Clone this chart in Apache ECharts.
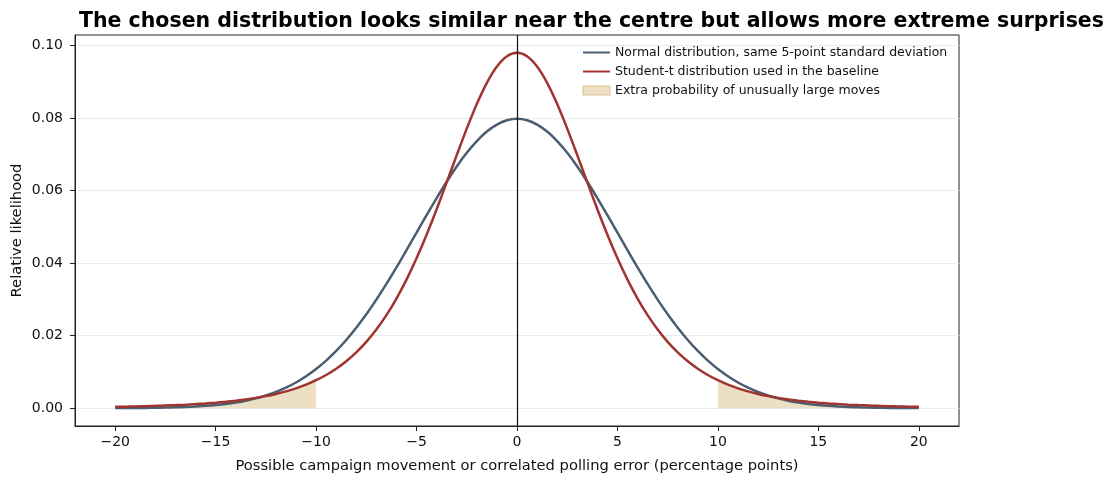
<!DOCTYPE html>
<html>
<head>
<meta charset="utf-8">
<title>Normal vs Student-t</title>
<script src="https://cdn.jsdelivr.net/npm/echarts@6.0.0/dist/echarts.min.js"></script>
<style>
  html, body { margin: 0; padding: 0; background: #fff; }
  #chart { width: 1118px; height: 483px; }
</style>
</head>
<body>
<div id="chart"></div>
<script>
// Values (percentage points -> relative likelihood)
const xs = [
    -20, -19.5, -19, -18.5, -18, -17.5, -17, -16.5, -16, -15.5, -15, -14.5, -14, -13.5, -13, -12.5,
    -12, -11.5, -11, -10.5, -10, -9.5, -9, -8.5, -8, -7.5, -7, -6.5, -6, -5.5, -5, -4.5, -4, -3.5,
    -3, -2.5, -2, -1.5, -1, -0.5, 0, 0.5, 1, 1.5, 2, 2.5, 3, 3.5, 4, 4.5, 5, 5.5, 6, 6.5, 7, 7.5,
    8, 8.5, 9, 9.5, 10, 10.5, 11, 11.5, 12, 12.5, 13, 13.5, 14, 14.5, 15, 15.5, 16, 16.5, 17, 17.5,
    18, 18.5, 19, 19.5, 20,
]

const normalValues = [
    0.00003, 0.00004, 0.00006, 0.00008, 0.00012, 0.00017, 0.00025, 0.00034, 0.00048, 0.00065,
    0.00089, 0.00119, 0.00158, 0.00208, 0.00272, 0.00351, 0.00448, 0.00567, 0.00709, 0.00880,
    0.01080, 0.01312, 0.01579, 0.01881, 0.02218, 0.02590, 0.02995, 0.03427, 0.03884, 0.04357,
    0.04839, 0.05322, 0.05794, 0.06245, 0.06664, 0.07041, 0.07365, 0.07628, 0.07821, 0.07939,
    0.07979,
    0.07939, 0.07821, 0.07628, 0.07365, 0.07041, 0.06664, 0.06245, 0.05794, 0.05322, 0.04839,
    0.04357, 0.03884, 0.03427, 0.02995, 0.02590, 0.02218, 0.01881, 0.01579, 0.01312, 0.01080,
    0.00880, 0.00709, 0.00567, 0.00448, 0.00351, 0.00272, 0.00208, 0.00158, 0.00119, 0.00089,
    0.00065, 0.00048, 0.00034, 0.00025, 0.00017, 0.00012, 0.00008, 0.00006, 0.00004, 0.00003,
]

const studentValues = [
    0.00039, 0.00044, 0.00050, 0.00057, 0.00065, 0.00075, 0.00086, 0.00099, 0.00114, 0.00132,
    0.00153, 0.00178, 0.00208, 0.00243, 0.00285, 0.00334, 0.00394, 0.00465, 0.00549, 0.00650,
    0.00772, 0.00916, 0.01089, 0.01295, 0.01540, 0.01829, 0.02169, 0.02565, 0.03024, 0.03547,
    0.04135, 0.04785, 0.05487, 0.06226, 0.06977, 0.07709, 0.08387, 0.08970, 0.09420, 0.09704,
    0.09802,
    0.09704, 0.09420, 0.08970, 0.08387, 0.07709, 0.06977, 0.06226, 0.05487, 0.04785, 0.04135,
    0.03547, 0.03024, 0.02565, 0.02169, 0.01829, 0.01540, 0.01295, 0.01089, 0.00916, 0.00772,
    0.00650, 0.00549, 0.00465, 0.00394, 0.00334, 0.00285, 0.00243, 0.00208, 0.00178, 0.00153,
    0.00132, 0.00114, 0.00099, 0.00086, 0.00075, 0.00065, 0.00057, 0.00050, 0.00044, 0.00039,
]

const xTicks = [-20, -15, -10, -5, 0, 5, 10, 15, 20]
const yTicks = [0, 0.02, 0.04, 0.06, 0.08, 0.10]
const tailCutoff = 10

const seriesNames = [
    "Normal distribution, same 5-point standard deviation",
    "Student-t distribution used in the baseline",
    "Extra probability of unusually large moves",
]

const FONT = "DejaVu Sans"
const BLUE = "#4b5e71"
const RED = "#9f3430"

const pairs = (ys) => xs.map((x, i) => [x, ys[i]])
const leftTail = pairs(studentValues).filter((p) => p[0] <= -tailCutoff)
const rightTail = pairs(studentValues).filter((p) => p[0] >= tailCutoff)

const minus = (s) => String(s).replace("-", "\u2212")

document.addEventListener("DOMContentLoaded", () => {
    const chart = echarts.init(document.getElementById("chart"), null, { renderer: "canvas" })

    const tailSeries = (data) => ({
        name: seriesNames[2],
        type: "line",
        data: data,
        smooth: 0.3,
        symbol: "none",
        z: 1,
        lineStyle: { color: "#dcc190", width: 1 },
        areaStyle: { color: "#ecdfc3", opacity: 1, origin: 0 },
        silent: true,
    })

    const option = {
        animation: false,
        textStyle: { fontFamily: FONT },
        title: {
            text: "The chosen distribution looks similar near the centre but allows more extreme surprises",
            left: 74,
            top: 6,
            textStyle: { fontFamily: FONT, fontSize: 20.5, fontWeight: "bold", color: "#000" },
        },
        legend: {
            orient: "vertical",
            left: 577,
            top: 41,
            itemWidth: 27,
            itemHeight: 9,
            itemGap: 6,
            textStyle: { fontFamily: FONT, fontSize: 12.5, color: "#111" },
            data: [
                { name: seriesNames[0], itemStyle: { opacity: 0 } },
                { name: seriesNames[1], itemStyle: { opacity: 0 } },
                { name: seriesNames[2], icon: "rect", itemStyle: { color: "#ecdfc3", borderColor: "#dcc190", borderWidth: 1 } },
            ],
        },
        grid: {
            left: 75,
            right: 159,
            top: 35,
            bottom: 57,
            outerBoundsMode: "none",
            show: true,
            borderColor: "#222",
            borderWidth: 1,
            backgroundColor: "transparent",
        },
        xAxis: {
            type: "value",
            min: -22,
            max: 22,
            name: "Possible campaign movement or correlated polling error (percentage points)",
            nameLocation: "middle",
            nameGap: 33,
            nameTextStyle: { fontFamily: FONT, fontSize: 14.7, color: "#111" },
            axisLine: { show: true, onZero: false, lineStyle: { color: "#222", width: 1 } },
            axisTick: { show: true, inside: false, length: 5, customValues: xTicks, lineStyle: { color: "#222" } },
            axisLabel: { customValues: xTicks, fontFamily: FONT, fontSize: 14, color: "#111", margin: 9, formatter: (v) => minus(v) },
            splitLine: { show: false },
        },
        yAxis: {
            type: "value",
            min: -0.0049,
            max: 0.1029,
            name: "Relative likelihood",
            nameLocation: "middle",
            nameGap: 50,
            nameMoveOverlap: false,
            nameTextStyle: { fontFamily: FONT, fontSize: 14.7, color: "#111" },
            axisLine: { show: true, onZero: false, lineStyle: { color: "#222", width: 1 } },
            axisTick: { show: true, inside: false, length: 5, customValues: yTicks, lineStyle: { color: "#222" } },
            axisLabel: { customValues: yTicks, fontFamily: FONT, fontSize: 14, color: "#111", margin: 12, formatter: (v) => v.toFixed(2) },
            splitLine: { show: false },
        },
        series: [
            {
                name: "gridlines",
                type: "line",
                data: [],
                silent: true,
                z: 0,
                markLine: {
                    silent: true,
                    z: 0,
                    symbol: "none",
                    label: { show: false },
                    lineStyle: { color: "#ebebeb", width: 1, type: "solid" },
                    data: yTicks.map((v) => ({ yAxis: v })),
                },
            },
            tailSeries(leftTail),
            tailSeries(rightTail),
            {
                name: seriesNames[0],
                type: "line",
                data: pairs(normalValues),
                smooth: 0.3,
                symbol: "none",
                z: 3,
                color: BLUE,
                lineStyle: { color: BLUE, width: 2.5 },
            },
            {
                name: seriesNames[1],
                type: "line",
                data: pairs(studentValues),
                smooth: 0.3,
                symbol: "none",
                z: 4,
                color: RED,
                lineStyle: { color: RED, width: 2.5 },
                markLine: {
                    silent: true,
                    z: 6,
                    symbol: "none",
                    label: { show: false },
                    lineStyle: { color: "#111", width: 1.2, type: "solid" },
                    data: [{ xAxis: 0 }],
                },
            },
        ],
    }

    chart.setOption(option)

    window.addEventListener("resize", () => {
        chart.resize()
    })
})
</script>
</body>
</html>
